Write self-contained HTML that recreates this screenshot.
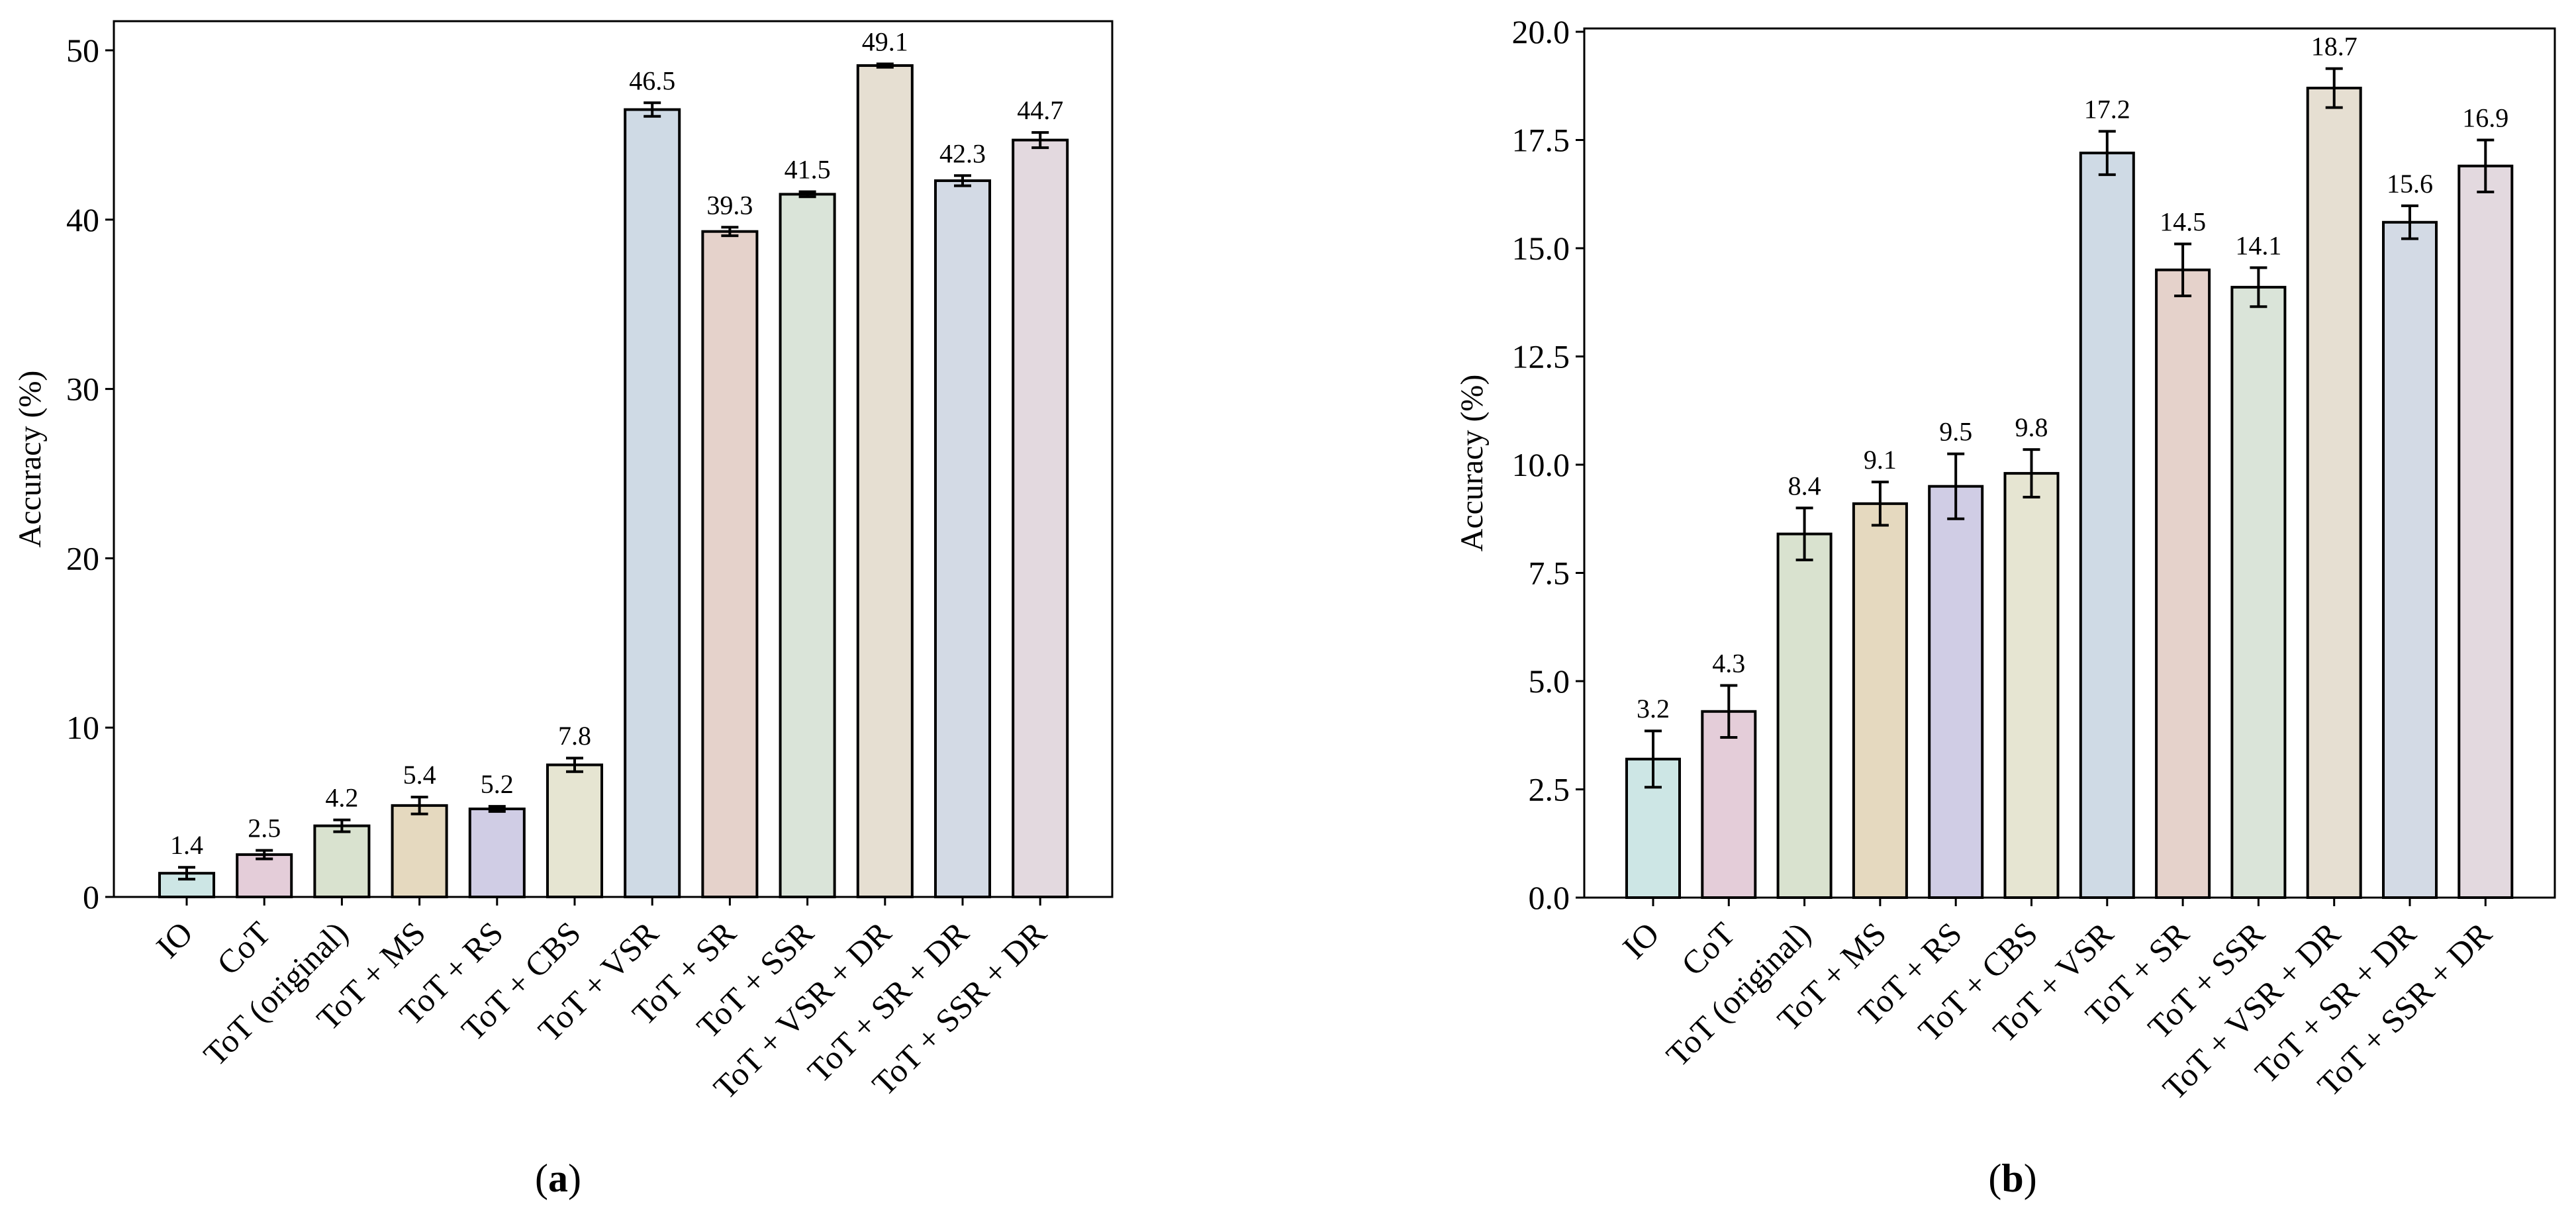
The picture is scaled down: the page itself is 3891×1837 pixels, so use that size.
<!DOCTYPE html>
<html><head><meta charset="utf-8"><style>
html,body{margin:0;padding:0;background:#fff;}
svg{display:block;font-family:"Liberation Serif",serif;}
</style></head><body>
<svg id="fig" width="3891" height="1837" viewBox="0 0 3891 1837" xmlns="http://www.w3.org/2000/svg"></svg>
<script>
const categories = ["IO","CoT","ToT (original)","ToT + MS","ToT + RS","ToT + CBS","ToT + VSR","ToT + SR","ToT + SSR","ToT + VSR + DR","ToT + SR + DR","ToT + SSR + DR"];
const valuesA = [1.4,2.5,4.2,5.4,5.2,7.8,46.5,39.3,41.5,49.1,42.3,44.7];
const errorsA = [0.35,0.25,0.35,0.5,0.15,0.4,0.4,0.25,0.15,0.1,0.3,0.45];
const valuesB = [3.2,4.3,8.4,9.1,9.5,9.8,17.2,14.5,14.1,18.7,15.6,16.9];
const errorsB = [0.65,0.6,0.6,0.5,0.75,0.55,0.5,0.6,0.45,0.45,0.38,0.6];
const ticksA = [0,10,20,30,40,50];
const tickLabelsA = ["0","10","20","30","40","50"];
const ticksB = [0,2.5,5,7.5,10,12.5,15,17.5,20];
const tickLabelsB = ["0.0","2.5","5.0","7.5","10.0","12.5","15.0","17.5","20.0"];
const barColors = ["#cde6e5","#e4cdd9","#d9e2cf","#e5d9bf","#d0cde5","#e6e5d2","#cfdae5","#e5d2cb","#dae4d9","#e6dfd2","#d3dae5","#e3d9df"];

const NS = "http://www.w3.org/2000/svg";
const svg = document.getElementById("fig");
function mk(tag, attrs, parent){
  const e = document.createElementNS(NS, tag);
  for (const k in attrs) e.setAttribute(k, attrs[k]);
  (parent||svg).appendChild(e);
  return e;
}

function drawChart(cfg, values, errors, ticks, tickLabels, id){
  const g = mk("g", {});
  
  
  const y = v => cfg.y0 - (v - 0) * (cfg.y0 - cfg.yTopVal) / cfg.topVal;
  const x = i => cfg.c0 + i * cfg.step;
  const bw = cfg.step * 0.7;
  values.forEach((v, i) => {
    const r = mk("rect", {x: x(i) - bw/2, y: y(v), width: bw, height: y(0) - y(v), fill: barColors[i], stroke: "#000", "stroke-width": 4}, g);
    
    
  });
  values.forEach((v, i) => {
    const e = errors[i];
    const eg = mk("g", {stroke: "#000", "stroke-width": 4}, g);
    
    
    mk("line", {x1: x(i), x2: x(i), y1: y(v - e), y2: y(v + e)}, eg);
    mk("line", {x1: x(i) - 13, x2: x(i) + 13, y1: y(v - e), y2: y(v - e)}, eg);
    mk("line", {x1: x(i) - 13, x2: x(i) + 13, y1: y(v + e), y2: y(v + e)}, eg);
    const t = mk("text", {x: x(i), y: y(v + e) - 20, "text-anchor": "middle", "font-size": 40, fill: "#000"}, g);
    t.textContent = v.toFixed(1);
    
    
  });
  const sp = mk("rect", {x: cfg.left, y: cfg.top, width: cfg.right - cfg.left, height: cfg.y0 - cfg.top, fill: "none", stroke: "#000", "stroke-width": 3}, g);
  
  
  ticks.forEach((tv, k) => {
    mk("line", {x1: cfg.left - 13, x2: cfg.left, y1: y(tv), y2: y(tv), stroke: "#000", "stroke-width": 3}, g);
    const t = mk("text", {x: cfg.left - 22, y: y(tv) + 17, "text-anchor": "end", "font-size": 50, fill: "#000"}, g);
    t.textContent = tickLabels[k];
    
    
  });
  categories.forEach((c, i) => {
    mk("line", {x1: x(i), x2: x(i), y1: cfg.y0, y2: cfg.y0 + 13, stroke: "#000", "stroke-width": 3}, g);
    const ax = x(i) + 12, ay = cfg.y0 + 58;
    const t = mk("text", {x: ax, y: ay, "text-anchor": "end", "font-size": 50, fill: "#000", transform: "rotate(-45 " + ax + " " + ay + ")"}, g);
    t.textContent = c;
    
    
  });
  const yl = mk("text", {x: cfg.ylabX, y: (cfg.top + cfg.y0)/2, "text-anchor": "middle", "font-size": 48, fill: "#000", transform: "rotate(-90 " + cfg.ylabX + " " + (cfg.top + cfg.y0)/2 + ")", "dominant-baseline": "middle"}, g);
  yl.textContent = "Accuracy (%)";
  
  
  const cap = mk("text", {x: cfg.capX, y: 1800, "text-anchor": "middle", "font-size": 60, fill: "#000"}, g);
  cap.innerHTML = '(<tspan font-weight="bold">' + id + '</tspan>)';
  
  
}

drawChart({left: 172, right: 1680, top: 32, y0: 1355, topVal: 50, yTopVal: 76, c0: 282, step: 117.2, ylabX: 50, capX: 843},
  valuesA, errorsA, ticksA, tickLabelsA, "a");
drawChart({left: 2393, right: 3859, top: 43, y0: 1356, topVal: 20, yTopVal: 48, c0: 2497, step: 114.3, ylabX: 2228, capX: 3040},
  valuesB, errorsB, ticksB, tickLabelsB, "b");
</script>
</body></html>
